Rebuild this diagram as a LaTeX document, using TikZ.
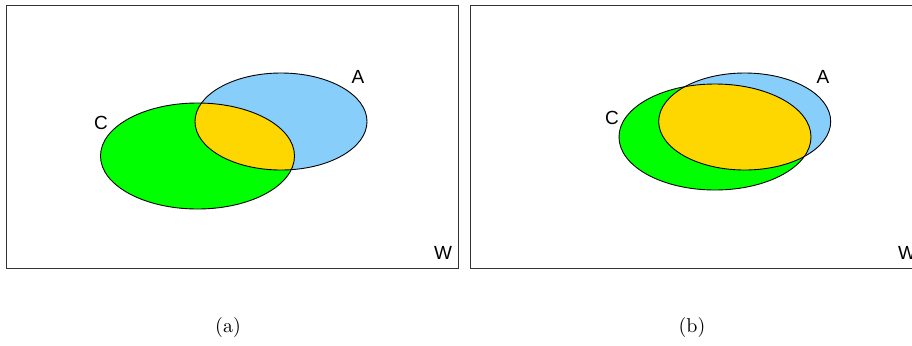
\documentclass[tikz,border=0pt]{standalone}
\usepackage{fontspec}
\newfontfamily\labelfont{Liberation Sans}
\usepackage{tikz}
\usetikzlibrary{positioning}

\definecolor{setgreen}{RGB}{0,255,0}
\definecolor{setblue}{RGB}{135,206,250}
\definecolor{setgold}{RGB}{255,215,0}

\tikzset{
    frame/.style={draw=black!80, line width=0.4pt},
    setline/.style={draw=black, line width=0.45pt},
    setlabel/.style={font=\labelfont\fontsize{9.5}{11}\selectfont, inner sep=0pt},
    caption/.style={font=\normalsize, inner sep=0pt}
}

\begin{document}
\begin{tikzpicture}[x=0.5pt, y=0.5pt]
    \useasboundingbox (0,0) rectangle (912,345);

    % --- (a) ---
    \draw[frame] (6,77) rectangle (458,340);
    \fill[setgreen] (197.5,189) ellipse [x radius=97, y radius=53];
    \fill[setblue] (281,223.5) ellipse [x radius=86, y radius=48.5];
    \begin{scope}
        \clip (281,223.5) ellipse [x radius=86, y radius=48.5];
        \fill[setgold] (197.5,189) ellipse [x radius=97, y radius=53];
    \end{scope}
    \draw[setline] (197.5,189) ellipse [x radius=97, y radius=53];
    \draw[setline] (281,223.5) ellipse [x radius=86, y radius=48.5];
    \node[setlabel] (Ca) at (101,222) {C};
    \node[setlabel] (Aa) at (358,268) {A};
    \node[setlabel] (Wa) at (443,92) {W};

    % --- (b) ---
    \draw[frame] (470,77) rectangle (922,340);
    \fill[setgreen] (715,208) ellipse [x radius=96, y radius=53];
    \fill[setblue] (744.7,223.5) ellipse [x radius=86, y radius=48.5];
    \begin{scope}
        \clip (744.7,223.5) ellipse [x radius=86, y radius=48.5];
        \fill[setgold] (715,208) ellipse [x radius=96, y radius=53];
    \end{scope}
    \draw[setline] (715,208) ellipse [x radius=96, y radius=53];
    \draw[setline] (744.7,223.5) ellipse [x radius=86, y radius=48.5];
    \node[setlabel] (Cb) at (612,227) {C};
    \node[setlabel] (Ab) at (823,268) {A};
    \node[setlabel] (Wb) at (907,92) {W};

    % --- captions ---
    \node[caption] (capa) at (228,18) {(a)};
    \node[caption] (capb) at (692,18) {(b)};
\end{tikzpicture}
\end{document}
